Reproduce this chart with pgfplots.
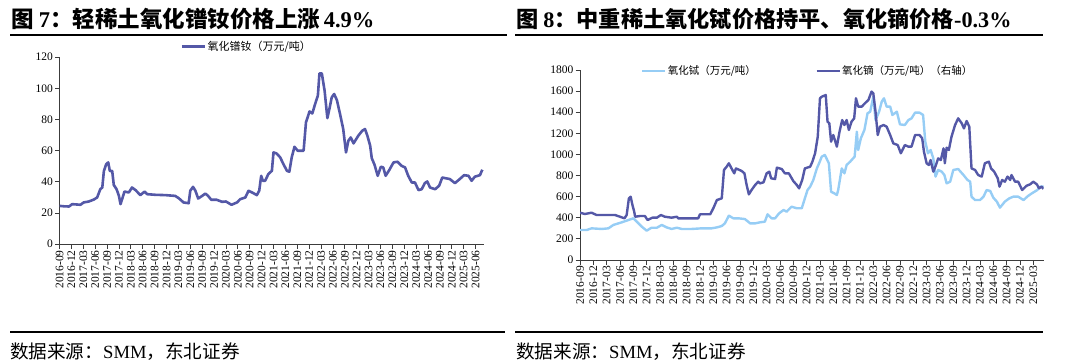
\documentclass[border=0pt]{standalone}
\usepackage{fontspec}
\setmainfont{Liberation Serif}
\newfontfamily\cjk{Noto Sans CJK SC}
\usepackage{pgfplots}
\pgfplotsset{compat=1.18}
\definecolor{dy}{RGB}{84,88,167}
\definecolor{tb}{RGB}{150,205,245}
\definecolor{axgray}{RGB}{60,60,60}
\pgfplotsset{
  rechart/.style={
    scale only axis,
    axis lines=left,
    axis line style={-, axgray, line width=0.9pt},
    tick style={axgray, line width=0.8pt},
    major tick length=4.5pt,
    tick align=outside,
    ymin=0, xmin=0,
    /pgf/number format/assume math mode=true,
    /pgf/number format/1000 sep={},
    xtick={0,3,...,105},
    xticklabels={2016-09,2016-12,2017-03,2017-06,2017-09,2017-12,2018-03,2018-06,2018-09,2018-12,2019-03,2019-06,2019-09,2019-12,2020-03,2020-06,2020-09,2020-12,2021-03,2021-06,2021-09,2021-12,2022-03,2022-06,2022-09,2022-12,2023-03,2023-06,2023-09,2023-12,2024-03,2024-06,2024-09,2024-12,2025-03,2025-06},
    xticklabel style={rotate=90, anchor=east, inner sep=1.5pt, font=\fontsize{11.5}{12}\selectfont},
    yticklabel style={font=\fontsize{11.5}{12}\selectfont, inner sep=2pt},
    legend cell align=left,
    legend style={draw=none, fill=none, inner sep=0pt, row sep=0pt,
      nodes={inner sep=1.5pt}},
    legend image code/.code={\draw[#1] (0pt,0pt) -- (23pt,0pt);},
    line join=round,
  }
}
\begin{document}
\begin{tikzpicture}[x=1pt,y=1pt]
\useasboundingbox (0,0) rectangle (1080,-362);
% titles
\node[anchor=west, inner sep=0pt] at (11,-19) {\fontsize{22.5}{24}\selectfont\cjk\bfseries 图\ {\rmfamily\bfseries 7}：轻稀土氧化镨钕价格上涨\,{\rmfamily\bfseries 4.9\%}};
\node[anchor=west, inner sep=0pt] at (516,-19) {\fontsize{22.2}{24}\selectfont\cjk\bfseries 图\ {\rmfamily\bfseries 8}：中重稀土氧化铽价格持平、氧化镝价格{\rmfamily\bfseries -0.3\%}};
\draw[line width=2pt] (10,-34.5) -- (507,-34.5);
\draw[line width=2pt] (515,-34.5) -- (1043,-34.5);
\draw[line width=2pt] (10,-332) -- (505,-332);
\draw[line width=2pt] (515,-332) -- (1043,-332);
\node[anchor=west, inner sep=0pt] at (10,-351.5) {\fontsize{18.6}{20}\selectfont\cjk 数据来源：{\rmfamily SMM}，东北证券};
\node[anchor=west, inner sep=0pt] at (516,-351.5) {\fontsize{18.6}{20}\selectfont\cjk 数据来源：{\rmfamily SMM}，东北证券};

% left chart
\begin{axis}[rechart, at={(59.5pt,-244.2pt)}, anchor=south west,
  width=424pt, height=187pt, xmax=107, ymax=120, ytick={0,20,...,120},
  legend style={at={(0.285,1.057)}, anchor=west, font=\fontsize{11}{12}\selectfont\cjk}]
\addplot[dy, line width=2.6pt] coordinates {
(0,24.6)(1.2,24.3)(2.4,24.2)(3.2,25.7)(5.3,25.3)(6.1,26.8)(7.4,27.4)(8.7,28.7)(9.5,30)(10.3,35.3)
(10.8,36.4)(11.2,47)(11.8,51.4)(12.3,52.5)(12.7,47)(13.3,47)(13.7,38)(14.4,35.3)(15,31)(15.4,25.7)
(15.8,28.9)(16.4,33.8)(17.5,33.2)(18.3,36.4)(19.2,34.7)(20.4,31.5)(21.5,33.8)(22.1,32.1)(24.2,31.7)
(26.7,31.5)(29.2,31)(30.1,29.5)(31.3,26.8)(32.6,26.3)(33,34.3)(33.7,36.8)(34.3,34.3)(35,29.3)(36,31)
(36.8,32.5)(37.5,31)(38.3,28.5)(39.7,28.5)(41,27.2)(42,27.4)(43.4,25.3)(44.8,26.8)(45.6,28.9)(46.9,30)
(47.7,34.3)(48.6,33.2)(49.8,31.5)(50.4,34.3)(50.9,43.9)(51.3,40.7)(51.9,40.7)(52.7,45)(53.6,47.1)
(54,58.9)(54.8,58.2)(55.7,55.7)(56.5,51.4)(57.4,47.1)(58,46.5)(58.6,55.7)(59.3,62.5)(60.1,60)(61.6,60)
(62.2,78.2)(63.1,85.2)(63.8,83.9)(64.5,89.9)(65.2,95.3)(65.6,109.6)(66.2,109.6)(66.9,98.5)(67.6,80.9)
(68.1,86.7)(68.7,94.2)(69.3,96.4)(70,92.5)(70.8,83.5)(71.6,73.9)(72.3,58.9)(72.9,66.4)(73.5,68.5)
(74.2,64.7)(75.4,69.6)(76.4,72.8)(77.1,73.9)(77.7,69.6)(78.4,63.2)(78.8,55.2)(79.5,51)(80.3,43.9)
(81.1,49.7)(81.7,49.3)(82.3,43.9)(83.2,47.5)(84.3,52.5)(85.3,52.9)(86.3,50.3)(87.2,49.3)(88,43.9)
(88.9,39.6)(89.7,39.6)(90.6,34.7)(91.4,35.3)(92.2,39.2)(92.8,40.3)(93.5,36.4)(94.8,35.3)(95.8,37.5)
(96.6,42.8)(97.3,42.4)(98.5,41.8)(99.8,39.2)(101,41.8)(102.1,44.3)(103.2,43.9)(104,40.7)(104.8,43.3)
(106.1,44.3)(106.7,47.8)
};
\addlegendentry{氧化镨钕（万元/吨）}
\end{axis}

% right chart
\begin{axis}[rechart, at={(580pt,-260pt)}, anchor=south west,
  width=463.5pt, height=190pt, xmax=104.3, ymax=1800, ytick={0,200,...,1800},
  xtick={0,3,...,102},
  legend columns=2,
  legend style={at={(0.131,0.995)}, anchor=west, font=\fontsize{10.5}{12}\selectfont\cjk}]
\addplot[tb, line width=2.4pt] coordinates {
(0,284)(1.5,284)(2.6,300)(4.9,294)(6.4,300)(7.5,332)(9.4,357)(10.9,379)(12,395)(12.8,363)(13.9,316)
(15,278)(16.1,306)(17.3,306)(18.4,332)(19.5,309)(20.6,294)(21.8,306)(22.9,294)(25.1,294)(27.4,300)
(29.6,300)(30.8,309)(31.9,322)(32.6,347)(33.5,420)(34.5,395)(35.6,395)(37.1,388)(38.3,347)(39.4,347)
(40.5,357)(41.6,363)(42.2,433)(43.1,395)(43.9,395)(44.8,442)(45.8,474)(46.5,458)(47.6,505)(48.8,490)
(49.9,490)(50.6,584)(51.2,663)(51.8,695)(52.5,758)(53.3,868)(53.8,916)(54.4,979)(55.1,995)(56,916)
(56.5,647)(57.2,632)(57.8,616)(58.1,663)(58.9,868)(59.5,821)(60,900)(60.8,932)(61.8,979)(62.3,1216)
(62.6,1042)(63.2,1153)(64,1232)(64.7,1390)(65.3,1405)(66,1547)(66.5,1326)(67.3,1405)(67.9,1500)
(68.4,1532)(69,1453)(69.8,1453)(70.3,1374)(71.3,1405)(72,1285)(73.1,1279)(73.9,1326)(74.6,1342)
(75.4,1396)(76.4,1396)(77.2,1374)(77.7,1121)(78.3,1011)(78.9,1042)(79.5,963)(80,790)(80.6,853)
(81.4,837)(82,805)(82.5,726)(83.3,742)(84,853)(85.1,862)(86.3,805)(87.2,758)(87.8,742)(88.1,600)
(88.9,568)(90,568)(90.8,600)(91.5,663)(92.3,654)(93,591)(93.8,553)(94.5,496)(95.6,553)(96.6,584)
(97.5,600)(98.6,600)(99.8,568)(100.8,606)(101.7,632)(102.9,663)(103.6,695)(104.3,695)
};
\addlegendentry{\makebox[146pt][l]{氧化铽（万元/吨）}}
\addplot[dy, line width=2.4pt] coordinates {
(0,448)(1.1,436)(2.6,448)(3.75,426)(5.6,426)(7.9,426)(9,410)(10,395)(10.5,426)(11,584)(11.4,600)
(11.8,521)(12.2,458)(12.4,410)(13.5,417)(14.6,417)(15.2,379)(16.3,401)(17.3,401)(18.2,426)(19.1,410)
(20.6,401)(21.8,410)(22.1,395)(24.4,395)(26.6,395)(27,433)(29.3,433)(30,490)(30.8,568)(31.9,584)
(32.4,853)(33,884)(33.5,916)(34.1,868)(34.7,821)(35.1,868)(36.4,843)(37,821)(37.5,710)(38,622)
(38.6,663)(39.4,710)(40.1,742)(40.5,726)(41.3,736)(42,821)(42.6,837)(43,774)(43.9,767)(44.3,875)
(45.4,862)(46.1,821)(47,821)(48,748)(48.8,710)(49.3,679)(50,758)(50.6,868)(51.8,884)(52.3,932)
(52.9,1011)(53.5,1168)(54,1532)(54.4,1547)(55.3,1563)(55.7,1311)(56.1,1295)(56.5,1121)(57,1184)
(57.8,1074)(58.4,1216)(59,1326)(59.5,1279)(60,1326)(60.5,1232)(61.1,1311)(61.7,1342)(62.1,1532)
(62.6,1453)(63.4,1453)(64.1,1484)(64.9,1516)(65.6,1595)(66,1579)(66.5,1405)(67,1184)(67.5,1263)
(68.3,1279)(69,1263)(69.8,1184)(70.5,1105)(71.5,1089)(72.2,1011)(73.1,1089)(73.9,1074)(74.6,1074)
(75.4,1184)(76.4,1184)(77,1153)(77.4,1026)(78,916)(78.5,900)(78.9,947)(79.5,837)(80.1,900)(80.6,963)
(81.2,947)(81.8,1058)(82.1,916)(82.5,1064)(83,1042)(83.6,1168)(84.4,1279)(85.1,1342)(85.9,1295)
(86.4,1247)(87,1317)(87.6,1263)(88.1,868)(88.9,853)(89.6,805)(90.4,790)(91.1,916)(92,932)(92.5,868)
(93.2,837)(94,774)(94.4,695)(95,758)(95.6,742)(96.2,790)(96.8,758)(97.1,805)(97.9,742)(98.6,742)
(99.5,663)(100.5,704)(101.3,717)(102,742)(102.8,717)(103.3,679)(103.9,695)(104.3,673)
};
\addlegendentry{氧化镝（万元/吨）（右轴）}
\end{axis}
\end{tikzpicture}
\end{document}
